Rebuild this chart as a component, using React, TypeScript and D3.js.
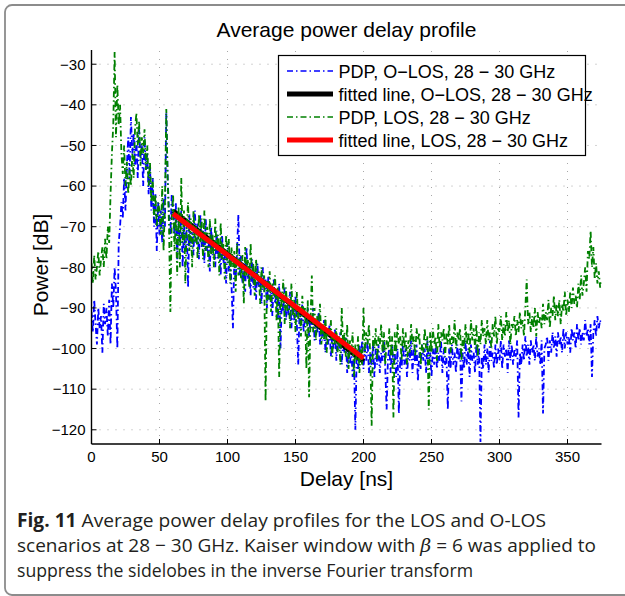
import React from 'react';
import * as d3 from 'd3';

// Sampling grid of the PDPs (ns)
const DELAY_STEP_NS = 1;

// PDP, O-LOS (blue), values every 1 ns from 0 ns
const PDP_OLOS = [
  -91, -96, -88, -94, -99, -90, -95, -92, -101, -89,
  -94, -90, -97, -88, -99, -84, -90, -80, -86, -100,
  -74, -70, -64, -68, -58, -66, -55, -48, -58, -43,
  -52, -47, -55, -49, -58, -46, -53, -50, -60, -48,
  -56, -52, -62, -55, -66, -58, -70, -62, -76, -64,
  -72, -66, -74, -63, -70, -42, -58, -66, -72, -62,
  -66, -72, -64, -78, -68, -74, -66, -80, -69, -76,
  -69, -85, -67, -75, -70, -77, -66, -74, -69, -78,
  -67, -75, -71, -79, -68, -76, -72, -81, -70, -77,
  -73, -80, -71, -78, -75, -82, -72, -79, -76, -84,
  -74, -81, -77, -85, -95, -78, -83, -76, -67, -82,
  -77, -84, -79, -86, -75, -83, -80, -87, -78, -85,
  -81, -88, -79, -85, -82, -89, -80, -86, -83, -90,
  -82, -88, -85, -92, -83, -89, -86, -93, -84, -100,
  -87, -91, -85, -93, -88, -92, -86, -95, -89, -93,
  -87, -94, -104, -90, -95, -89, -96, -91, -94, -90,
  -97, -92, -95, -90, -98, -93, -96, -91, -99, -94,
  -98, -93, -101, -96, -99, -94, -102, -97, -100, -95,
  -103, -97, -100, -96, -104, -98, -101, -97, -106, -99,
  -104, -100, -107, -102, -120, -101, -105, -99, -103, -98,
  -105, -100, -103, -98, -106, -101, -104, -99, -107, -100,
  -104, -99, -106, -101, -103, -98, -105, -115, -102, -100,
  -106, -99, -104, -101, -107, -100, -116, -102, -105, -99,
  -104, -100, -107, -101, -103, -98, -106, -100, -104, -99,
  -108, -101, -105, -99, -103, -100, -106, -98, -104, -101,
  -107, -100, -104, -99, -105, -101, -103, -98, -106, -100,
  -104, -102, -115, -100, -105, -99, -104, -101, -106, -99,
  -103, -100, -113, -101, -105, -98, -104, -100, -107, -99,
  -103, -101, -106, -99, -104, -100, -123, -102, -105, -99,
  -104, -100, -106, -98, -103, -101, -105, -99, -104, -100,
  -103, -98, -105, -99, -102, -100, -106, -98, -103, -99,
  -104, -100, -102, -98, -117, -101, -104, -99, -103, -97,
  -102, -99, -104, -98, -101, -99, -103, -97, -102, -100,
  -104, -98, -116, -100, -99, -97, -103, -98, -101, -96,
  -100, -97, -102, -96, -99, -97, -101, -95, -100, -96,
  -99, -97, -101, -95, -98, -96, -100, -94, -98, -95,
  -99, -96, -98, -93, -97, -95, -99, -94, -107, -96,
  -93, -97, -92, -95, -93, -94,
];

// PDP, LOS (green), values every 1 ns from 0 ns
const PDP_LOS = [
  -79, -84, -77, -83, -80, -76, -82, -78, -75, -80,
  -73, -78, -70, -74, -62, -52, -45, -27, -48, -35,
  -45, -40, -52, -57, -50, -60, -54, -62, -56, -60,
  -52, -58, -46, -42, -50, -44, -55, -48, -52, -46,
  -56, -50, -60, -54, -64, -58, -68, -62, -70, -64,
  -66, -72, -60, -76, -64, -41, -58, -70, -91, -68,
  -62, -76, -68, -82, -65, -80, -58, -74, -66, -84,
  -70, -64, -76, -68, -80, -66, -74, -70, -78, -67,
  -74, -68, -78, -66, -76, -70, -80, -68, -77, -72,
  -80, -68, -76, -72, -82, -69, -78, -74, -83, -72,
  -79, -73, -84, -75, -80, -76, -86, -74, -82, -77,
  -83, -77, -89, -75, -82, -78, -85, -74, -83, -79,
  -87, -78, -84, -81, -89, -80, -85, -82, -113, -83,
  -88, -81, -91, -84, -87, -82, -93, -85, -107, -86,
  -90, -83, -94, -85, -91, -87, -95, -84, -92, -88,
  -96, -86, -93, -89, -97, -87, -92, -90, -105, -88,
  -112, -93, -82, -96, -90, -98, -92, -95, -89, -99,
  -94, -98, -92, -101, -95, -97, -93, -102, -96, -99,
  -95, -101, -97, -104, -90, -99, -96, -102, -94, -105,
  -98, -101, -96, -107, -99, -103, -97, -106, -100, -104,
  -90, -101, -96, -99, -94, -102, -119, -97, -100, -95,
  -103, -97, -99, -94, -101, -96, -104, -98, -100, -95,
  -102, -97, -117, -96, -101, -94, -99, -97, -103, -95,
  -100, -96, -104, -98, -101, -94, -99, -97, -102, -95,
  -98, -96, -104, -99, -101, -95, -100, -97, -115, -96,
  -101, -95, -99, -97, -103, -94, -100, -96, -98, -95,
  -102, -96, -99, -94, -101, -97, -99, -93, -100, -96,
  -98, -95, -103, -97, -100, -94, -99, -96, -101, -93,
  -98, -95, -100, -94, -102, -96, -99, -93, -97, -95,
  -99, -93, -98, -96, -100, -94, -97, -92, -99, -95,
  -96, -92, -98, -94, -97, -91, -96, -93, -99, -94,
  -95, -92, -97, -93, -96, -91, -95, -93, -97, -90,
  -83, -94, -91, -96, -92, -95, -90, -97, -91, -94,
  -92, -95, -89, -94, -91, -93, -88, -95, -90, -92,
  -87, -93, -89, -92, -88, -94, -89, -91, -86, -92,
  -88, -91, -86, -90, -85, -89, -87, -90, -84, -88,
  -82, -87, -84, -80, -86, -76, -78, -71, -80, -75,
  -83, -79, -84, -81, -85, -83,
];

// Fitted lines (delay ns, power dB)
const FIT_DELAYS = [60, 200];
const FIT_OLOS = [-66.1, -103.2];
const FIT_LOS = [-66.8, -102.4];

const X_TICKS = [0, 50, 100, 150, 200, 250, 300, 350];
const Y_TICKS = [-120, -110, -100, -90, -80, -70, -60, -50, -40, -30];
const X_DOMAIN = [0, 375];
const Y_DOMAIN = [-123.5, -26.5];

const LEGEND_LABELS = [
  'PDP, O\u2212LOS, 28 \u2212 30 GHz',
  'fitted line, O\u2212LOS, 28 \u2212 30 GHz',
  'PDP, LOS, 28 \u2212 30 GHz',
  'fitted line, LOS, 28 \u2212 30 GHz',
];

const TITLE = 'Average power delay profile';
const X_LABEL = 'Delay [ns]';
const Y_LABEL = 'Power [dB]';

const AX = 'Liberation Sans, Arial, sans-serif';
const CAP = '"Open Sans", "Noto Sans", sans-serif';

export default function App() {
  const W = 625;
  const H = 596;
  const left = 91.5, right = 601.5, top = 50, bottom = 444;
  const x = d3.scaleLinear().domain(X_DOMAIN).range([left, right]);
  const y = d3.scaleLinear().domain(Y_DOMAIN).range([bottom, top]);

  const pdpLine = d3
    .line<number>()
    .x((_, i) => x(i * DELAY_STEP_NS))
    .y((d) => y(d));
  const fitLine = d3
    .line<number>()
    .x((_, i) => x(FIT_DELAYS[i]))
    .y((d) => y(d));

  const dash = '6,3,1.5,3';
  const pdpWidth = 1.8;
  const legendX0 = 287, legendX1 = 333;
  const legendRows = [71, 94, 117, 140];
  const legendStyles = [
    { stroke: '#0000ff', width: 1.6, dash },
    { stroke: '#000000', width: 5, dash: undefined },
    { stroke: '#008000', width: 1.6, dash },
    { stroke: '#ff0000', width: 5, dash: undefined },
  ];

  return (
    <svg
      width={W}
      height={H}
      viewBox={`0 0 ${W} ${H}`}
      style={{ position: 'absolute', left: 0, top: 0, background: '#fff' }}
    >
      <rect x={0} y={0} width={W} height={H} fill="#fff" />
      <rect x={5} y={5} width={660} height={590} rx={7} fill="none" stroke="#8c8c8c" strokeWidth={1.8} />

      <defs>
        <clipPath id="plotclip">
          <rect x={left} y={top} width={right - left} height={bottom - top} />
        </clipPath>
      </defs>

      {/* grid */}
      <g stroke="#a8a8a8" strokeWidth={1} strokeDasharray="1,7">
        {X_TICKS.filter((t) => t > 0).map((t) => (
          <line key={`gx${t}`} x1={x(t)} x2={x(t)} y1={bottom} y2={top} />
        ))}
        {Y_TICKS.map((t) => (
          <line key={`gy${t}`} x1={left} x2={right} y1={y(t)} y2={y(t)} />
        ))}
      </g>

      {/* data */}
      <g clipPath="url(#plotclip)" fill="none">
        <path d={pdpLine(PDP_OLOS) || ''} stroke="#0000ff" strokeWidth={pdpWidth} strokeDasharray={dash} />
        <path d={fitLine(FIT_OLOS) || ''} stroke="#000000" strokeWidth={5} />
        <path d={pdpLine(PDP_LOS) || ''} stroke="#008000" strokeWidth={pdpWidth} strokeDasharray={dash} />
        <path d={fitLine(FIT_LOS) || ''} stroke="#ff0000" strokeWidth={5} />
      </g>

      {/* axes */}
      <g stroke="#000" strokeWidth={1.4}>
        <line x1={left} x2={left} y1={top} y2={bottom} />
        <line x1={left} x2={right} y1={bottom} y2={bottom} />
        {X_TICKS.map((t) => (
          <line key={`tx${t}`} x1={x(t)} x2={x(t)} y1={bottom} y2={bottom - 5} strokeWidth={1} />
        ))}
        {Y_TICKS.map((t) => (
          <line key={`ty${t}`} x1={left} x2={left + 5} y1={y(t)} y2={y(t)} strokeWidth={1} />
        ))}
      </g>
      <g fontFamily={AX} fontSize={15} fill="#000">
        {X_TICKS.map((t) => (
          <text key={`lx${t}`} x={x(t)} y={bottom + 18} textAnchor="middle">
            {d3.format('d')(t)}
          </text>
        ))}
        {Y_TICKS.map((t) => (
          <text key={`ly${t}`} x={left - 6} y={y(t) + 5.3} textAnchor="end">
            {'\u2212' + Math.abs(t)}
          </text>
        ))}
      </g>

      <text x={(left + right) / 2} y={37} textAnchor="middle" fontFamily={AX} fontSize={21} fill="#000">
        {TITLE}
      </text>
      <text x={(left + right) / 2} y={486} textAnchor="middle" fontFamily={AX} fontSize={21} fill="#000">
        {X_LABEL}
      </text>
      <text
        transform={`translate(48, ${(top + bottom) / 2 + 18}) rotate(-90)`}
        textAnchor="middle"
        fontFamily={AX}
        fontSize={21}
        fill="#000"
      >
        {Y_LABEL}
      </text>

      {/* legend */}
      <rect x={278.5} y={55.5} width={307} height={100} fill="#fff" stroke="#000" strokeWidth={1.2} />
      {LEGEND_LABELS.map((lab, i) => (
        <g key={lab}>
          <line
            x1={legendX0}
            x2={legendX1}
            y1={legendRows[i]}
            y2={legendRows[i]}
            stroke={legendStyles[i].stroke}
            strokeWidth={legendStyles[i].width}
            strokeDasharray={legendStyles[i].dash}
          />
          <text x={338.5} y={legendRows[i] + 6.5} fontFamily={AX} fontSize={18} fill="#000">
            {lab}
          </text>
        </g>
      ))}

      {/* caption */}
      <g fontFamily={CAP} fontSize={19} fill="#231f20">
        <text x={17} y={527} textLength={529} lengthAdjust="spacingAndGlyphs">
          <tspan fontWeight="bold">Fig. 11</tspan> Average power delay profiles for the LOS and O-LOS
        </text>
        <text x={17} y={552} textLength={579} lengthAdjust="spacingAndGlyphs">
          scenarios at 28 {'\u2212'} 30 GHz. Kaiser window with{' '}
          <tspan fontFamily="DejaVu Serif, serif" fontStyle="italic">
            β
          </tspan>{' '}
          = 6 was applied to
        </text>
        <text x={17} y={577} textLength={456} lengthAdjust="spacingAndGlyphs">
          suppress the sidelobes in the inverse Fourier transform
        </text>
      </g>
    </svg>
  );
}
